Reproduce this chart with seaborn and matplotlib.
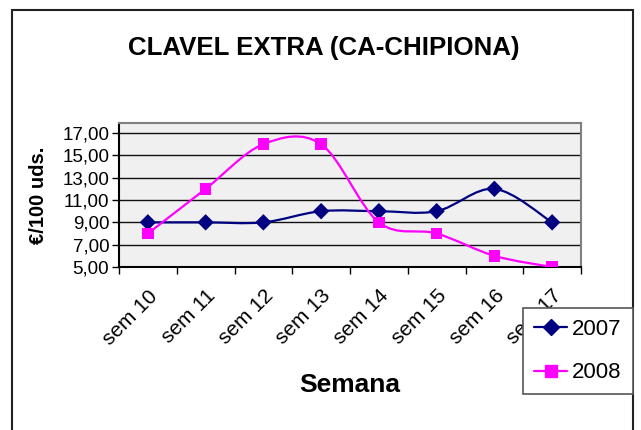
import matplotlib
matplotlib.use("Agg")
import matplotlib.pyplot as plt
import matplotlib.transforms as mtransforms
import seaborn as sns
import pandas as pd
from matplotlib.path import Path
from matplotlib.patches import PathPatch, Rectangle
from matplotlib.lines import Line2D
from matplotlib.ticker import FuncFormatter, FixedLocator

# Data
semanas = ['sem 10', 'sem 11', 'sem 12', 'sem 13', 'sem 14', 'sem 15', 'sem 16', 'sem 17']
precio_2007 = [9, 9, 9, 10, 10, 10, 12, 9]
precio_2008 = [8, 12, 16, 16, 9, 8, 6, 5]
y_ticks = [5, 7, 9, 11, 13, 15, 17]

colors = {'2007': '#000080', '2008': '#FF00FF'}
markers = {'2007': 'D', '2008': 's'}

sns.set_theme(style="white")
plt.rcParams['font.family'] = ['Liberation Sans', 'DejaVu Sans']
for k in ['text.color', 'axes.labelcolor', 'xtick.color', 'ytick.color']:
    plt.rcParams[k] = 'black'

df = pd.DataFrame({
    'pos': list(range(len(semanas))) * 2,
    'valor': precio_2007 + precio_2008,
    'anio': ['2007'] * len(semanas) + ['2008'] * len(semanas),
})


def smooth_path(xs, ys):
    # Excel-style smoothed line: cubic Bezier segments (Catmull-Rom tangents)
    pts = list(zip(xs, ys))
    n = len(pts)
    verts = [pts[0]]
    codes = [Path.MOVETO]
    for i in range(n - 1):
        p0 = pts[max(i - 1, 0)]
        p1 = pts[i]
        p2 = pts[i + 1]
        p3 = pts[min(i + 2, n - 1)]
        c1 = (p1[0] + (p2[0] - p0[0]) / 6, p1[1] + (p2[1] - p0[1]) / 6)
        c2 = (p2[0] - (p3[0] - p1[0]) / 6, p2[1] - (p3[1] - p1[1]) / 6)
        verts += [c1, c2, p2]
        codes += [Path.CURVE4] * 3
    return Path(verts, codes)


fig = plt.figure(figsize=(6.41, 4.30), dpi=100)
ax = fig.add_axes([119 / 641, 163 / 430, 462 / 641, 144 / 430])
ax.set_facecolor('#f0f0f0')

for anio in ['2007', '2008']:
    sub = df[df['anio'] == anio]
    ax.add_patch(PathPatch(smooth_path(sub['pos'], sub['valor']), facecolor='none',
                           edgecolor=colors[anio], lw=1.6, zorder=3))

sns.scatterplot(data=df, x='pos', y='valor', hue='anio', style='anio',
                palette=colors, markers=markers, s=70, linewidth=0,
                legend=False, ax=ax, zorder=4)

ax.set_xlim(-0.5, len(semanas) - 0.5)
ax.set_ylim(5, 17.9)
ax.set_yticks(y_ticks)
ax.yaxis.set_major_formatter(FuncFormatter(lambda v, p: f"{v:.2f}".replace('.', ',')))
ax.grid(axis='y', color='#111111', lw=1)
ax.set_axisbelow(True)

ax.set_xticks(range(len(semanas)))
ax.set_xticklabels(semanas, rotation=45, ha='right', rotation_mode='anchor', fontsize=15)
shift = mtransforms.ScaledTranslation(-5 / 100, -2 / 100, fig.dpi_scale_trans)
for lbl in ax.get_xticklabels():
    lbl.set_transform(lbl.get_transform() + shift)
ax.xaxis.set_minor_locator(FixedLocator([i - 0.5 for i in range(len(semanas) + 1)]))
ax.tick_params(axis='x', which='major', length=0, pad=14)
ax.tick_params(axis='x', which='minor', length=5, color='black', width=1, bottom=True)
ax.tick_params(axis='y', length=5, color='black', width=1, left=True, labelsize=13.5, pad=2)

for side, sp in ax.spines.items():
    sp.set_color('#808080')
    sp.set_linewidth(1.5)
ax.spines['left'].set_color('black')
ax.spines['bottom'].set_color('black')

ax.set_xlabel('Semana', fontsize=19, fontweight='bold', labelpad=18)
ax.set_ylabel('€/100 uds.', fontsize=14.5, fontweight='bold', labelpad=10)

fig.text(324 / 641, 1 - 48 / 430, 'CLAVEL EXTRA (CA-CHIPIONA)', ha='center', va='center',
         fontsize=18.6, fontweight='bold')

# chart area border
fig.patches.append(Rectangle((12 / 641, -0.05), 621 / 641, 1.05 - 10 / 430,
                             transform=fig.transFigure, fill=False,
                             edgecolor='#222222', lw=1.5))

handles = [Line2D([], [], color=colors[a], marker=markers[a], markersize=9 if a == '2008' else 8,
                  lw=1.6) for a in ['2007', '2008']]
leg = fig.legend(handles, ['2007', '2008'], loc='upper left',
                 bbox_to_anchor=(523 / 641, 1 - 308 / 430), fontsize=16,
                 frameon=True, fancybox=False, edgecolor='#555555', framealpha=1,
                 handlelength=1.5, handletextpad=0.2, borderpad=0.5, labelspacing=1.0,
                 borderaxespad=0)
leg.get_frame().set_linewidth(1.2)

fig.savefig('out.png', dpi=100)
